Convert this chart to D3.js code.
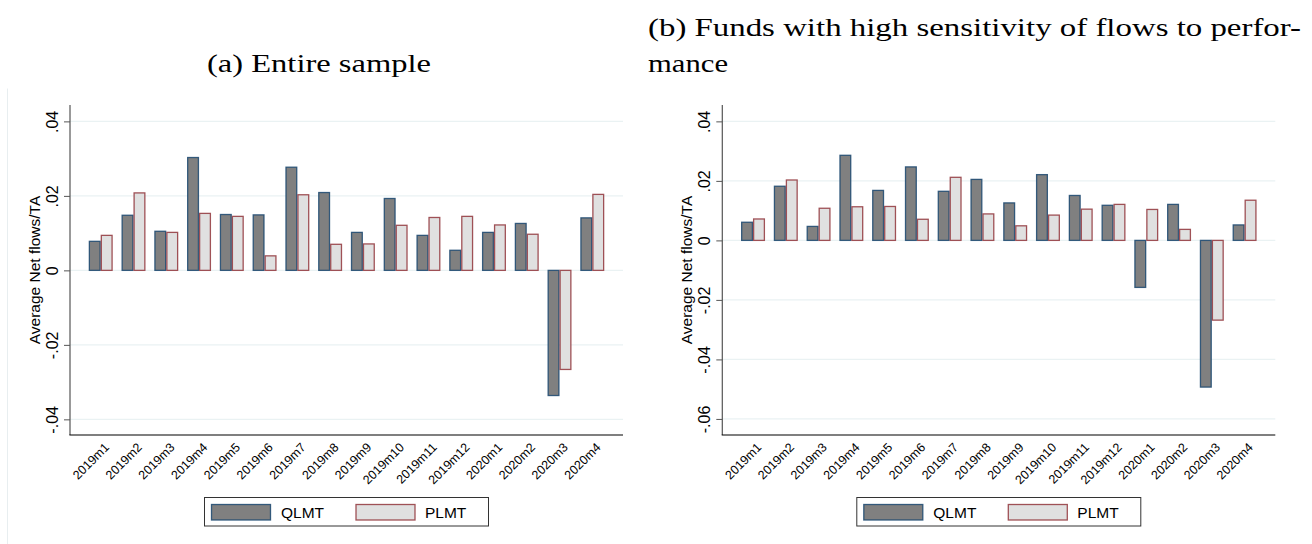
<!DOCTYPE html>
<html>
<head>
<meta charset="utf-8">
<script src="https://cdn.jsdelivr.net/npm/d3@7"></script>
<style>
  body { margin: 0; background: #fff; }
  svg { display: block; }
</style>
</head>
<body>
<svg id="chart" width="1312" height="544"></svg>
<script>
const categories = ["2019m1","2019m2","2019m3","2019m4","2019m5","2019m6","2019m7","2019m8","2019m9","2019m10","2019m11","2019m12","2020m1","2020m2","2020m3","2020m4"];
const seriesNames = ["QLMT", "PLMT"];

// Panel (a): Entire sample
const qlmtA = [0.0078, 0.0148, 0.0105, 0.0303, 0.0150, 0.0149, 0.0277, 0.0209, 0.0102, 0.0193, 0.0094, 0.0054, 0.0102, 0.0126, -0.0336, 0.0141];
const plmtA = [0.0094, 0.0208, 0.0102, 0.0153, 0.0145, 0.0039, 0.0203, 0.0070, 0.0071, 0.0121, 0.0142, 0.0145, 0.0122, 0.0097, -0.0266, 0.0204];
const ticksA = [-0.04, -0.02, 0, 0.02, 0.04];
const domainA = [-0.0442, 0.0444];

// Panel (b): High flow-performance sensitivity
const qlmtB = [0.0061, 0.0182, 0.0047, 0.0286, 0.0168, 0.0247, 0.0165, 0.0205, 0.0126, 0.0221, 0.0151, 0.0118, -0.0158, 0.0121, -0.0493, 0.0052];
const plmtB = [0.0072, 0.0203, 0.0108, 0.0113, 0.0114, 0.0071, 0.0212, 0.0089, 0.0049, 0.0085, 0.0105, 0.0121, 0.0104, 0.0037, -0.0268, 0.0135];
const ticksB = [-0.06, -0.04, -0.02, 0, 0.02, 0.04];
const domainB = [-0.0654, 0.0455];

const titleA = "(a) Entire sample";
const titleB1 = "(b) Funds with high sensitivity of flows to perfor-";
const titleB2 = "mance";
const yTitle = "Average Net flows/TA";

const colors = {
  qFill: "#808080", qStroke: "#1a476f",
  pFill: "#e0e0e0", pStroke: "#90353b",
  grid: "#eaf2f3"
};

const svg = d3.select("#chart");
const sans = "'Liberation Sans', Arial, sans-serif";
const serif = "'Liberation Serif', 'Times New Roman', serif";

const fmt = d => d === 0 ? "0" : d3.format(".2f")(d).replace("\u2212", "-").replace("0.", ".");

function panel(ox, q, p, ticks, domain) {
  const g = svg.append("g").attr("transform", `translate(${ox},0)`);
  const x0 = 70, x1 = 623, yTop = 105, yBot = 435;

  const x = d3.scaleBand().domain(categories).range([x0, x1])
    .paddingInner(0.27).paddingOuter(0.5725);
  const xs = d3.scaleBand().domain(seriesNames).range([0, x.bandwidth()]);
  const y = d3.scaleLinear().domain(domain).range([yBot, yTop]);

  // gridlines
  g.append("g").selectAll("line").data(ticks).join("line")
    .attr("x1", x0).attr("x2", x1)
    .attr("y1", d => y(d)).attr("y2", d => y(d))
    .attr("stroke", colors.grid).attr("stroke-width", 1.2);

  // bars
  const data = categories.map((c, i) => ({ c, vals: [
    { s: "QLMT", v: q[i] }, { s: "PLMT", v: p[i] }
  ]}));
  const grp = g.append("g").selectAll("g").data(data).join("g")
    .attr("transform", d => `translate(${x(d.c)},0)`);
  grp.selectAll("rect").data(d => d.vals).join("rect")
    .attr("x", d => xs(d.s) + 0.6)
    .attr("width", xs.bandwidth() - 1.2)
    .attr("y", d => Math.min(y(d.v), y(0)))
    .attr("height", d => Math.abs(y(d.v) - y(0)))
    .attr("fill", d => d.s === "QLMT" ? colors.qFill : colors.pFill)
    .attr("stroke", d => d.s === "QLMT" ? colors.qStroke : colors.pStroke)
    .attr("stroke-opacity", 0.85)
    .attr("stroke-width", 1.3);

  // y axis
  const yAxis = d3.axisLeft(y).tickValues(ticks).tickFormat(fmt).tickSize(6).tickSizeOuter(0);
  const ya = g.append("g").attr("transform", `translate(${x0},0)`).call(yAxis);
  ya.attr("font-size", null).attr("font-family", null);
  ya.select(".domain").attr("stroke", "#555").attr("stroke-width", 1.2)
    .attr("d", `M0,${yTop}V${yBot}`);
  ya.selectAll(".tick line").attr("stroke", "#555");
  ya.selectAll(".tick text")
    .attr("font-family", sans).attr("font-size", 16).attr("fill", "#000")
    .attr("transform", "rotate(-90)")
    .attr("x", 0).attr("dx", 0).attr("y", -12.5).attr("dy", 0)
    .attr("text-anchor", "middle");

  // x axis line
  g.append("line").attr("x1", x0 - 0.6).attr("x2", x1)
    .attr("y1", yBot).attr("y2", yBot)
    .attr("stroke", "#000").attr("stroke-width", 1.2);

  // x labels
  g.append("g").selectAll("text").data(categories).join("text")
    .attr("transform", d => `translate(${x(d) + x.bandwidth() / 2 + 3},${yBot + 7}) rotate(-45)`)
    .attr("text-anchor", "end")
    .attr("dy", "0.7em")
    .attr("font-family", sans).attr("font-size", 12.5)
    .attr("fill", "#000")
    .text(d => d);

  // y title
  g.append("text")
    .attr("transform", `translate(${x0 - 30},${(yTop + yBot) / 2}) rotate(-90)`)
    .attr("text-anchor", "middle")
    .attr("font-family", sans).attr("font-size", 15.5).attr("fill", "#000")
    .text(yTitle);

  // legend
  const lg = g.append("g");
  lg.append("rect").attr("x", 204.5).attr("y", 497.5).attr("width", 284).attr("height", 28.5)
    .attr("fill", "#fff").attr("stroke", "#333").attr("stroke-width", 1);
  const items = [
    { s: "QLMT", sx: 211.5, tx: 281, fill: colors.qFill, stroke: colors.qStroke },
    { s: "PLMT", sx: 356, tx: 425, fill: colors.pFill, stroke: colors.pStroke }
  ];
  lg.selectAll("rect.sw").data(items).join("rect").attr("class", "sw")
    .attr("x", d => d.sx).attr("y", 504.5).attr("width", 59).attr("height", 15.5)
    .attr("fill", d => d.fill).attr("stroke", d => d.stroke).attr("stroke-width", 1.3)
    .attr("stroke-opacity", 0.85);
  lg.selectAll("text").data(items).join("text")
    .attr("x", d => d.tx).attr("y", 518)
    .attr("font-family", sans).attr("font-size", 15.5).attr("fill", "#000")
    .text(d => d.s);
}

// faint frame of left graph region
svg.append("path").attr("d", "M7.5,544V88.5").attr("stroke", "#e8eef0").attr("fill", "none");

panel(0, qlmtA, plmtA, ticksA, domainA);
panel(652.3, qlmtB, plmtB, ticksB, domainB);

// titles
svg.append("text").attr("x", 207).attr("y", 72)
  .attr("font-family", serif).attr("font-size", 26).attr("fill", "#000")
  .attr("textLength", 224).attr("lengthAdjust", "spacingAndGlyphs")
  .text(titleA);
svg.append("text").attr("x", 648).attr("y", 36)
  .attr("font-family", serif).attr("font-size", 26).attr("fill", "#000")
  .attr("textLength", 653).attr("lengthAdjust", "spacingAndGlyphs")
  .text(titleB1);
svg.append("text").attr("x", 648).attr("y", 72)
  .attr("font-family", serif).attr("font-size", 26).attr("fill", "#000")
  .attr("textLength", 80).attr("lengthAdjust", "spacingAndGlyphs")
  .text(titleB2);
</script>
</body>
</html>
